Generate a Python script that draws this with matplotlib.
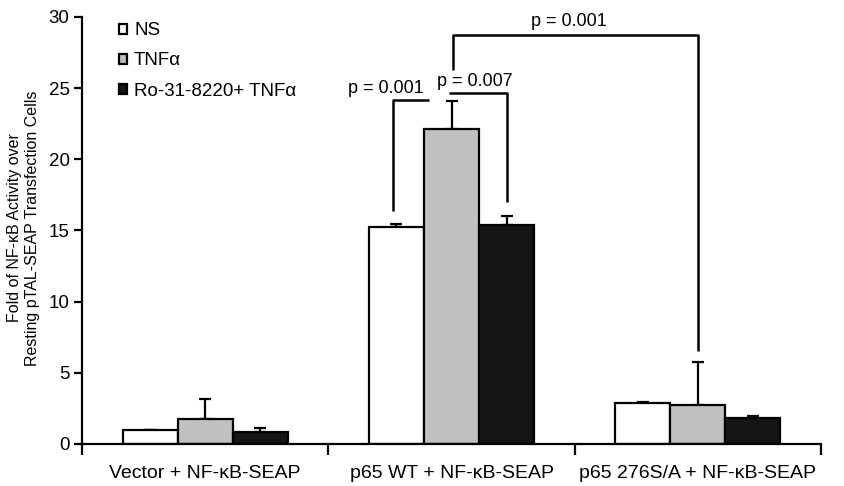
import numpy as np
import matplotlib
matplotlib.use('Agg')
import matplotlib.pyplot as plt

plt.rcParams['font.family'] = ['Liberation Sans', 'DejaVu Sans']

groups = ['Vector + NF-κB-SEAP', 'p65 WT + NF-κB-SEAP', 'p65 276S/A + NF-κB-SEAP']
treatments = ['NS', 'TNFα', 'Ro-31-8220+ TNFα']
colors = ['white', '#c0c0c0', '#151515']

# mean fold activity per treatment, one entry per group
ns_vals = [1.0, 15.25, 2.88]
tnf_vals = [1.76, 22.1, 2.74]
ro_vals = [0.84, 15.4, 1.83]
ns_err = [0.0, 0.2, 0.07]
tnf_err = [1.4, 2.0, 3.0]
ro_err = [0.3, 0.6, 0.15]

values = [ns_vals, tnf_vals, ro_vals]
errors = [ns_err, tnf_err, ro_err]

fig = plt.figure(figsize=(8.44, 4.86), dpi=100)
ax = fig.add_axes([82 / 844, 1 - 444 / 486, 739 / 844, 427 / 486])

centers = np.arange(len(groups)) + 0.5
width = 0.2236
for i, (vals, errs) in enumerate(zip(values, errors)):
    xs = centers + (i - 1) * width
    ax.bar(xs, vals, width, color=colors[i], edgecolor='black', linewidth=1.6,
           label=treatments[i], zorder=2)
    ax.errorbar(xs, vals, yerr=[np.zeros(len(vals)), errs], fmt='none',
                ecolor='black', elinewidth=1.6, capsize=4.3, capthick=1.6, zorder=1)

# significance brackets
def bracket(pts, lw=1.8):
    px, py = zip(*pts)
    ax.plot(px, py, color='black', lw=lw, solid_capstyle='butt', zorder=3)

x_ns2 = centers[1] - width
x_ro2 = centers[1] + width
x_tnf3 = centers[2]
bracket([(x_ns2 - 0.015, 16.4), (x_ns2 - 0.015, 24.15), (1.41, 24.15)])
bracket([(1.49, 24.65), (x_ro2, 24.65), (x_ro2, 17.0)])
bracket([(1.507, 26.3), (1.507, 28.75), (x_tnf3, 28.75), (x_tnf3, 6.5)])

ax.text(1.232, 24.65, 'p = 0.001', ha='center', va='baseline', fontsize=13)
ax.text(1.596, 25.15, 'p = 0.007', ha='center', va='baseline', fontsize=13)
ax.text(1.975, 29.4, 'p = 0.001', ha='center', va='baseline', fontsize=13)

ax.set_xlim(0, 3)
ax.set_ylim(0, 30)
ax.set_yticks(np.arange(0, 31, 5))
ax.set_xticks([0, 1, 2, 3])
ax.set_xticklabels([])
ax.set_xticks(centers, minor=True)
ax.set_xticklabels(groups, minor=True, fontsize=14)
ax.tick_params(axis='x', which='major', direction='out', length=8, width=1.6)
ax.tick_params(axis='x', which='minor', length=0, pad=15)
ax.tick_params(axis='y', direction='out', length=6, width=1.6, labelsize=13.5, pad=3)

for side in ['top', 'right']:
    ax.spines[side].set_visible(False)
for side in ['left', 'bottom']:
    ax.spines[side].set_linewidth(1.6)

fig.text(24 / 844, 1 - 228 / 486,
         'Fold of NF-κB Activity over\nResting pTAL-SEAP Transfection Cells',
         rotation=90, ha='center', va='center', fontsize=11.5, linespacing=1.25)

ax.legend(loc='upper left', bbox_to_anchor=(0.04, 1.005), frameon=False,
          fontsize=13.5, handlelength=0.45, handleheight=0.45, handletextpad=0.35,
          labelspacing=0.7, borderaxespad=0)

fig.savefig('out.png', dpi=100)
